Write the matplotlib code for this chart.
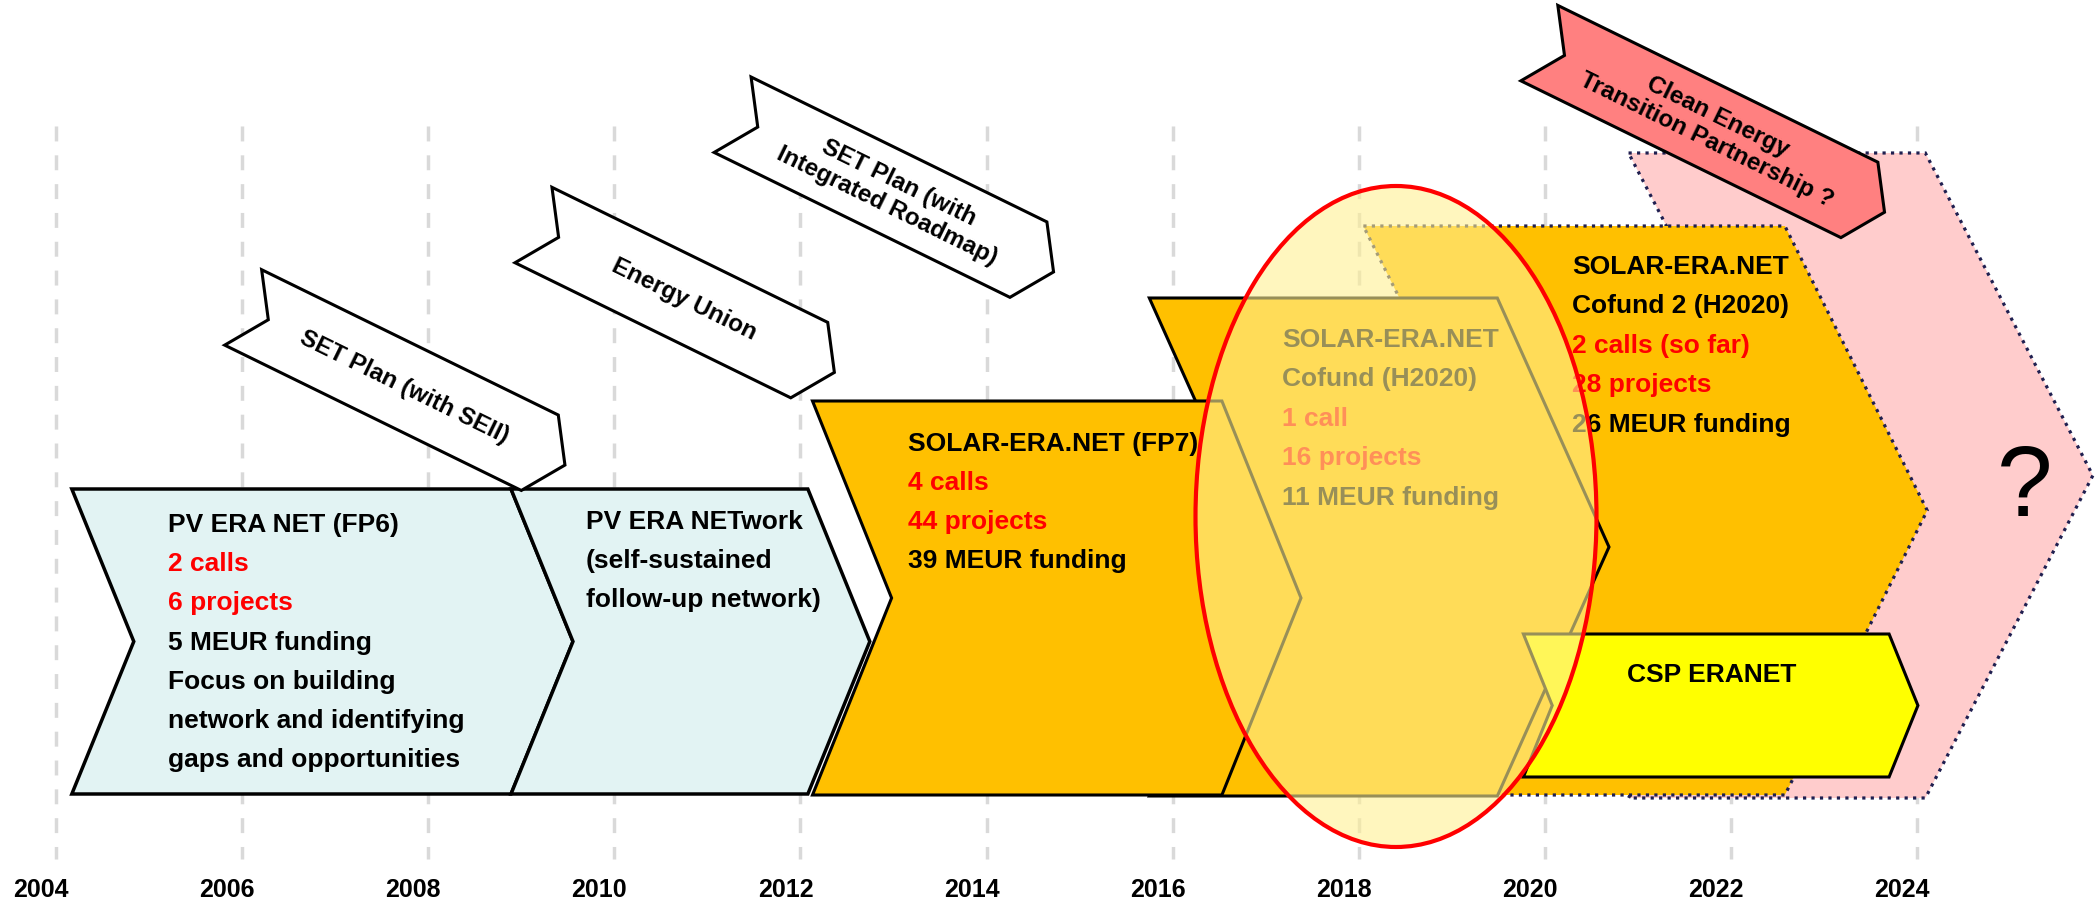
import numpy as np
import matplotlib
matplotlib.use('Agg')
import matplotlib.pyplot as plt
from matplotlib.patches import Polygon, Ellipse

plt.rcParams['font.family'] = ['Liberation Sans', 'DejaVu Sans']

# ---- data ----
years = [2004, 2006, 2008, 2010, 2012, 2014, 2016, 2018, 2020, 2022, 2024]

# programme phases (start / end of the box, in years)
phase_keys = ['fp6', 'network', 'fp7', 'cofund', 'cofund2', 'future', 'csp']
phase_start = [2004.17, 2008.89, 2012.13, 2015.75, 2018.05, 2020.90, 2019.77]
phase_end = [2008.89, 2012.08, 2016.53, 2019.49, 2022.58, 2024.09, 2023.70]

fp6_lines = [('PV ERA NET (FP6)', 'k'), ('2 calls', 'red'), ('6 projects', 'red'),
             ('5 MEUR funding', 'k'), ('Focus on building', 'k'),
             ('network and identifying', 'k'), ('gaps and opportunities', 'k')]
network_lines = [('PV ERA NETwork', 'k'), ('(self-sustained', 'k'),
                 ('follow-up network)', 'k')]
fp7_lines = [('SOLAR-ERA.NET (FP7)', 'k'), ('4 calls', 'red'), ('44 projects', 'red'),
             ('39 MEUR funding', 'k')]
cofund_lines = [('SOLAR-ERA.NET', 'k'), ('Cofund (H2020)', 'k'), ('1 call', 'red'),
                ('16 projects', 'red'), ('11 MEUR funding', 'k')]
cofund2_lines = [('SOLAR-ERA.NET', 'k'), ('Cofund 2 (H2020)', 'k'),
                 ('2 calls (so far)', 'red'), ('28 projects', 'red'),
                 ('26 MEUR funding', 'k')]

# policy banners
banner_text = ['SET Plan (with SEII)', 'Energy Union',
               'SET Plan (with\nIntegrated Roadmap)',
               'Clean Energy\nTransition Partnership ?']
banner_start = [2006.21, 2009.33, 2011.47, 2020.14]
banner_len = [3.55, 3.30, 3.54, 3.83]   # years

# ---- layout ----
PXY = 93.05          # pixels per year
W, H = 2098, 904
x_left = 2004 - 56 / PXY
x_right = 2004 + (W - 56) / PXY

fig = plt.figure(figsize=(W / 100, H / 100), dpi=100)
ax = fig.add_axes([0, 0, 1, 1])
ax.set_xlim(x_left, x_right)
ax.set_ylim(H, 0)
ax.axis('off')

# vertical extent of each phase (pixel rows from the top) and arrow depth
phase_top = [490, 490, 402, 299, 227, 154, 635]
phase_bot = [795, 795, 796, 797, 796, 799, 778]
phase_depth = [0.666, 0.666, 0.85, 1.20, 1.53, 1.80, 0.31]
phase_fill = ['#E2F3F3', '#E2F3F3', '#FFC000', '#FFC000', '#FFC000', '#FFCCCC', '#FFFF00']
phase_edge = ['k', 'k', 'k', 'k', '#1F1F50', '#1F1F50', 'k']
phase_ls = ['-', '-', '-', '-', ':', ':', '-']
phase_lw = [2.5, 2.5, 2.2, 2.2, 2.3, 2.3, 2.2]
phase_z = [5, 5, 4, 3, 2, 1, 4.5]

for gx in years:
    ax.plot([gx, gx], [127, 860], color='#D9D9D9', lw=2.5,
            linestyle=(0, (4.3, 4.0)), zorder=0, solid_capstyle='butt')
    ax.text(gx - 0.16, 890, str(gx), ha='center', va='center',
            fontsize=18, fontweight='bold', zorder=10)

for i, k in enumerate(phase_keys):
    x0, x1, d = phase_start[i], phase_end[i], phase_depth[i]
    t, b = phase_top[i], phase_bot[i]
    m = (t + b) / 2
    pts = [(x0, t), (x1, t), (x1 + d, m), (x1, b), (x0, b), (x0 + d, m)]
    ax.add_patch(Polygon(pts, closed=True, facecolor=phase_fill[i],
                         edgecolor=phase_edge[i], lw=phase_lw[i],
                         linestyle=phase_ls[i], joinstyle='miter',
                         zorder=phase_z[i]))


def block(lines, x, y, step=39.2, size=19):
    for j, (s, c) in enumerate(lines):
        ax.text(x, y + j * step, s, color=c, fontsize=size, fontweight='bold',
                ha='left', va='center', zorder=6)


def px2yr(px):
    return 2004 + (px - 56) / PXY


block(fp6_lines, px2yr(168), 525)
block(network_lines, px2yr(586), 522)
block(fp7_lines, px2yr(908), 444, step=39)
block(cofund_lines, px2yr(1282), 340, step=39.5)
block(cofund2_lines, px2yr(1572), 267, step=39.5)

ax.text(px2yr(1712), 675, 'CSP ERANET', fontsize=19, fontweight='bold',
        ha='center', va='center', zorder=6)
ax.text(px2yr(2025), 490, '?', fontsize=72, ha='center', va='center', zorder=6)

# highlight ellipse around the first Cofund
ax.add_patch(Ellipse((px2yr(1396), 517.5), 401 / PXY, 661,
                     facecolor=(1.0, 0.94, 0.58, 0.6), edgecolor='red',
                     lw=3, zorder=7))

# banners: rotated arrow ribbons
ang = np.deg2rad(26.1)
bh, bd = 84, 28
banner_top = [270.7, 188.3, 78, 6.4]
banner_fill = ['white', 'white', 'white', '#FF8080']
ca, sa = np.cos(ang), np.sin(ang)
for i, s in enumerate(banner_text):
    L = banner_len[i] * PXY
    loc = [(0, 0), (L, 0), (L + bd, bh / 2), (L, bh), (0, bh), (bd, bh / 2)]
    x0, y0 = banner_start[i], banner_top[i]
    pts = [(x0 + (u * ca - v * sa) / PXY, y0 + u * sa + v * ca) for u, v in loc]
    ax.add_patch(Polygon(pts, closed=True, facecolor=banner_fill[i],
                         edgecolor='k', lw=2.2, joinstyle='miter', zorder=8))
    u, v = (L + bd) / 2, bh / 2
    ax.text(x0 + (u * ca - v * sa) / PXY, y0 + u * sa + v * ca, s,
            rotation=-26.1, rotation_mode='anchor', ha='center', va='center',
            multialignment='center', fontsize=17.5, fontweight='bold',
            linespacing=1.2, zorder=9)

fig.savefig('out.png', dpi=100)
